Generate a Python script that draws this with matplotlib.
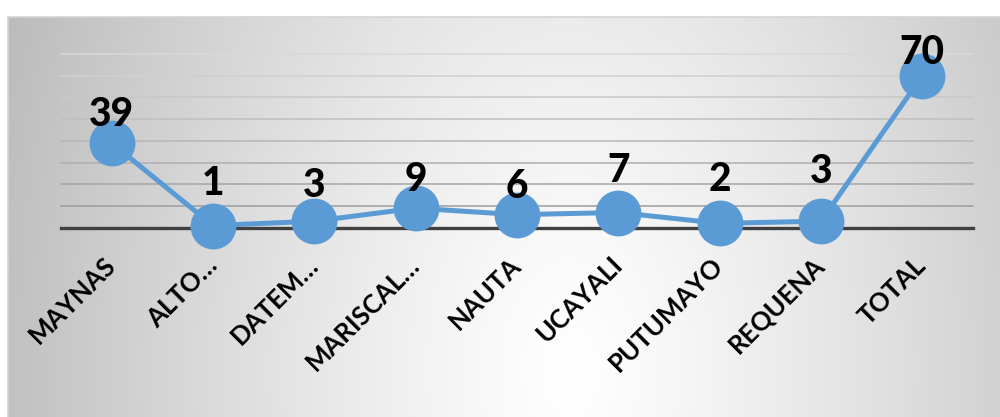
import numpy as np
import matplotlib
matplotlib.use("Agg")
import matplotlib.pyplot as plt

categories = ["MAYNAS", "ALTO…", "DATEM…", "MARISCAL…", "NAUTA", "UCAYALI", "PUTUMAYO", "REQUENA", "TOTAL"]
values = [39, 1, 3, 9, 6, 7, 2, 3, 70]
y_ticks = [0, 10, 20, 30, 40, 50, 60, 70, 80]

# label placement above each point (pixels), style only
label_dy = [17, 31, 24, 17, 17, 31, 32, 38, 12]

W, H = 1000, 417
fig = plt.figure(figsize=(W / 100, H / 100), dpi=100)
fig.patch.set_facecolor("white")

# background radial gradient (chart area)
x0, y0 = 8, 17
bg = fig.add_axes([x0 / W, 0, (W - x0) / W, (H - y0) / H])
xs = np.arange(x0, W) + 0.5
ys = np.arange(y0, H) + 0.5
X, Y = np.meshgrid(xs, ys)
cx, cy, rx, ry = 570, 370, 560, 900
r = np.sqrt(((X - cx) / rx) ** 2 + ((Y - cy) / ry) ** 2)
g = 255 - 62 * np.clip(r, 0, 1.25) ** 1.2
g = np.clip(g, 0, 255) / 255.0
img = np.dstack([g, g, g])
bg.imshow(img, aspect="auto", interpolation="bilinear")
bg.set_axis_off()
# border lines
fig.add_artist(plt.Line2D([x0 / W, 1], [1 - y0 / H, 1 - y0 / H], color="#d4d4d4", lw=1.2))
fig.add_artist(plt.Line2D([x0 / W, x0 / W], [0, 1 - y0 / H], color="#d4d4d4", lw=1.2))

left, right = 61 / W, 973 / W
bottom, top = 1 - 227.7 / H, 1 - 54 / H
ax = fig.add_axes([left, bottom, right - left, top - bottom])
ax.set_facecolor("none")
ax.set_xlim(-0.5, len(categories) - 0.5)
ax.set_ylim(y_ticks[0], y_ticks[-1])
for s in ax.spines.values():
    s.set_visible(False)

# gridlines (lighter at top, darker lower)
for yv in y_ticks[1:]:
    frac = (yv - y_ticks[0]) / (y_ticks[-1] - y_ticks[0])
    c = 0.58 + 0.27 * frac
    ax.axhline(yv, color=(c, c, c), lw=1.1, zorder=1, clip_on=False)
ax.axhline(0, color="#404040", lw=2.4, zorder=2, clip_on=False)

xpos = np.arange(len(categories))
ax.plot(xpos, values, color="#5b9bd5", lw=3.6, marker="o", markersize=32,
        markerfacecolor="#5b9bd5", markeredgecolor="#5b9bd5", zorder=3, clip_on=False)

for xi, v, dy in zip(xpos, values, label_dy):
    ax.annotate(str(v), (xi, v), xytext=(0, dy), textcoords="offset pixels",
                ha="center", va="baseline", fontsize=28, fontweight="black",
                family=["Lato", "DejaVu Sans"], color="black", zorder=4)

ax.set_yticks([])
ax.set_xticks(xpos)
ax.set_xticklabels(categories, rotation=45, ha="right", va="center",
                   rotation_mode="anchor", fontsize=18.5, fontweight="bold",
                   family=["Lato", "DejaVu Sans"], color="black")
ax.tick_params(axis="x", length=0, pad=24)

fig.savefig("out.png", dpi=100)
